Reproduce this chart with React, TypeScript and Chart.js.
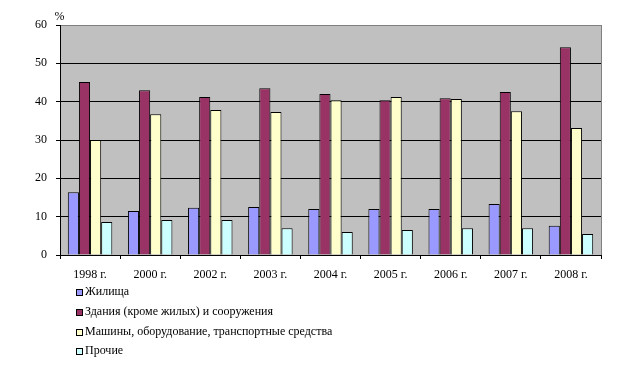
import React, { useEffect, useRef } from "react";
import { Chart, registerables } from "chart.js";

Chart.register(...registerables);

const categories = ["1998 г.", "2000 г.", "2002 г.", "2003 г.", "2004 г.", "2005 г.", "2006 г.", "2007 г.", "2008 г."];
const housing = [16.4, 11.5, 12.3, 12.5, 12.0, 12.0, 12.0, 13.3, 7.6];
const buildings = [45.1, 43.0, 41.2, 43.5, 42.0, 40.4, 40.9, 42.5, 54.2];
const machines = [30.0, 36.7, 37.8, 37.3, 40.4, 41.2, 40.7, 37.5, 33.1];
const other = [8.6, 9.1, 9.1, 7.0, 6.0, 6.5, 7.0, 7.0, 5.5];
const seriesNames = [
  "Жилища",
  "Здания (кроме жилых) и сооружения",
  "Машины, оборудование, транспортные средства",
  "Прочие",
];
const yTicks = [0, 10, 20, 30, 40, 50, 60];

const colors = ["#9999FF", "#993366", "#FFFFCC", "#CCFFFF"];
const FONT = "'Liberation Serif', 'Times New Roman', serif";

const decorPlugin = {
  id: "decor",
  beforeDatasetsDraw(chart: any) {
    const { ctx, chartArea: a } = chart;
    ctx.save();
    ctx.restore();
  },
  beforeDraw(chart: any) {
    const { ctx, chartArea: a } = chart;
    ctx.save();
    ctx.fillStyle = "#C0C0C0";
    ctx.fillRect(a.left, a.top, a.right - a.left, a.bottom - a.top);
    ctx.restore();
  },
  afterDraw(chart: any) {
    const { ctx, chartArea: a } = chart;
    ctx.save();
    // right border
    ctx.strokeStyle = "#808080";
    ctx.lineWidth = 1;
    ctx.beginPath();
    ctx.moveTo(Math.round(a.right) + 0.5, a.top);
    ctx.lineTo(Math.round(a.right) + 0.5, a.bottom);
    ctx.stroke();
    // % label
    ctx.fillStyle = "#000";
    ctx.font = `12px ${FONT}`;
    ctx.textAlign = "center";
    ctx.textBaseline = "middle";
    ctx.fillText("%", 59.5, 17);
    // legend
    const rows = [292, 312, 331.5, 351];
    ctx.textAlign = "left";
    seriesNames.forEach((name, i) => {
      const y = rows[i];
      ctx.fillStyle = colors[i];
      ctx.fillRect(76, Math.round(y - 3), 6, 6);
      ctx.strokeStyle = "#000";
      ctx.strokeRect(76.5, Math.round(y - 3) + 0.5, 6, 6);
      ctx.fillStyle = "#000";
      ctx.fillText(name, 85, y);
    });
    ctx.restore();
  },
};

export default function App() {
  const ref = useRef<HTMLCanvasElement | null>(null);
  useEffect(() => {
    if (!ref.current) return;
    const data = [housing, buildings, machines, other];
    const chart = new Chart(ref.current, {
      type: "bar",
      data: {
        labels: categories,
        datasets: data.map((d, i) => ({
          label: seriesNames[i],
          data: d,
          backgroundColor: colors[i],
          borderColor: "#000",
          borderWidth: 1,
          borderSkipped: "bottom",
          barPercentage: 1.0,
          categoryPercentage: 0.74,
        })),
      },
      options: {
        animation: false,
        responsive: false,
        maintainAspectRatio: false,
        layout: { padding: { top: 25, right: 22, left: 0, bottom: 0 } },
        plugins: {
          legend: { display: false },
          tooltip: { enabled: false },
        },
        scales: {
          x: {
            grid: {
              offset: true,
              drawOnChartArea: false,
              drawTicks: true,
              tickLength: 4,
              tickColor: "#000",
            },
            border: { color: "#000", width: 1 },
            ticks: {
              color: "#000",
              font: { family: FONT, size: 12 },
              padding: 9,
              maxRotation: 0,
            },
            afterFit(scale: any) {
              scale.height = 115;
            },
          },
          y: {
            min: 0,
            max: 60,
            afterBuildTicks(scale: any) {
              scale.ticks = yTicks.map((v) => ({ value: v }));
            },
            grid: {
              color: (c: any) => (c.tick && c.tick.value === 60 ? "#808080" : "#000"),
              tickColor: "#000",
              tickLength: 4,
              lineWidth: 1,
            },
            border: { color: "#000", width: 1 },
            ticks: {
              color: "#000",
              font: { family: FONT, size: 12 },
              padding: 9,
            },
            afterFit(scale: any) {
              scale.width = 60;
            },
          },
        },
      },
      plugins: [decorPlugin],
    });
    return () => chart.destroy();
  }, []);
  return (
    <div style={{ position: "fixed", left: 0, top: 0, width: 623, height: 370, background: "#fff" }}>
      <canvas ref={ref} width={623} height={370} style={{ width: 623, height: 370 }} />
    </div>
  );
}
